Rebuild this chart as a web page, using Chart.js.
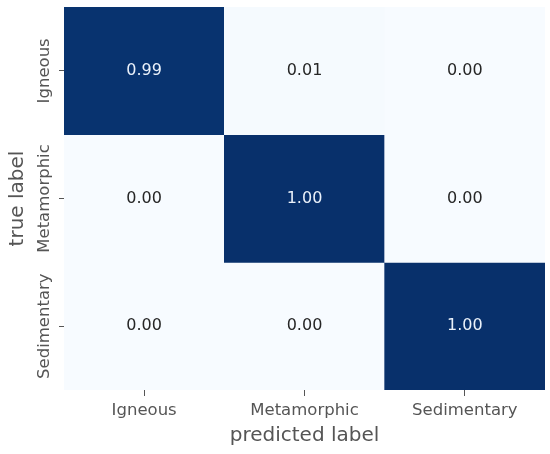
<!DOCTYPE html>
<html>
<head>
<meta charset="utf-8">
<script src="https://cdn.jsdelivr.net/npm/chart.js@4/dist/chart.umd.min.js"></script>
<style>
  html, body { margin: 0; padding: 0; background: #ffffff; }
  canvas { display: block; }
</style>
</head>
<body>
<canvas id="c" width="550" height="454"></canvas>
<script>
// ---- data ----
const predictedLabels = ['Igneous', 'Metamorphic', 'Sedimentary'];
const trueLabels = ['Igneous', 'Metamorphic', 'Sedimentary'];
const rowIgneous = [0.99, 0.01, 0.00];
const rowMetamorphic = [0.00, 1.00, 0.00];
const rowSedimentary = [0.00, 0.00, 1.00];
const matrixRows = [rowIgneous, rowMetamorphic, rowSedimentary];
const xTitle = 'predicted label';
const yTitle = 'true label';

// ---- colour map (Blues) ----
const bluesStops = ['#f7fbff','#deebf7','#c6dbef','#9ecae1','#6baed6','#4292c6','#2171b5','#08519c','#08306b'];
function hexToRgb(h){ return [parseInt(h.slice(1,3),16),parseInt(h.slice(3,5),16),parseInt(h.slice(5,7),16)]; }
function blues(t){
  t = Math.max(0, Math.min(1, t));
  const pos = t * (bluesStops.length - 1);
  const i = Math.min(Math.floor(pos), bluesStops.length - 2);
  const f = pos - i;
  const a = hexToRgb(bluesStops[i]), b = hexToRgb(bluesStops[i+1]);
  const c = a.map((v,k)=>Math.round(v + (b[k]-v)*f));
  return 'rgb(' + c.join(',') + ')';
}

const FONT = '"DejaVu Sans", "Liberation Sans", sans-serif';
const TICK_SIZE = 16.5;
const TEXT_GRAY = '#555555';

// measure widest y label for centring rotated labels on the axis
const mctx = document.createElement('canvas').getContext('2d');
mctx.font = TICK_SIZE + 'px ' + FONT;
const widestY = Math.max(...trueLabels.map(l => mctx.measureText(l).width));
const Y_AXIS_W = 64, Y_TICK_LEN = 5, Y_LABEL_CX = 45;
const yTickPadding = Y_AXIS_W - Y_TICK_LEN - Y_LABEL_CX - widestY / 2;

const datasets = matrixRows.map((row, r) => ({
  label: trueLabels[r],
  data: row.map(() => [r, r + 1]),
  values: row,
  backgroundColor: row.map(v => blues(v)),
  borderWidth: 0,
  barPercentage: 1.0,
  categoryPercentage: 1.0,
  grouped: false
}));

const annotPlugin = {
  id: 'annot',
  afterDatasetsDraw(chart) {
    const ctx = chart.ctx;
    ctx.save();
    ctx.font = '16px ' + FONT;
    ctx.textAlign = 'center';
    ctx.textBaseline = 'middle';
    chart.data.datasets.forEach((ds, di) => {
      const meta = chart.getDatasetMeta(di);
      meta.data.forEach((bar, i) => {
        const v = ds.values[i];
        ctx.fillStyle = v > 0.5 ? '#eaf1fa' : '#262626';
        const cy = (bar.y + bar.base) / 2;
        ctx.fillText(v.toFixed(2), bar.x, cy);
      });
    });
    ctx.restore();
  }
};

new Chart(document.getElementById('c'), {
  type: 'bar',
  data: { labels: predictedLabels, datasets },
  plugins: [annotPlugin],
  options: {
    responsive: false,
    animation: false,
    devicePixelRatio: 1,
    layout: { padding: { left: 0, right: 5, top: 7, bottom: 0 } },
    plugins: { legend: { display: false }, tooltip: { enabled: false } },
    scales: {
      x: {
        type: 'category',
        offset: true,
        grid: { display: true, drawOnChartArea: false, drawTicks: true, tickLength: 6, color: TEXT_GRAY, tickColor: TEXT_GRAY, offset: false },
        border: { display: false },
        ticks: { color: TEXT_GRAY, font: { family: FONT, size: TICK_SIZE }, padding: 5, maxRotation: 0, minRotation: 0 },
        title: { display: true, text: xTitle, color: TEXT_GRAY, font: { family: FONT, size: 20 }, padding: { top: 0, bottom: 6 } },
        afterFit(scale) { scale.height = 64; }
      },
      y: {
        type: 'linear',
        min: 0, max: 3,
        reverse: true,
        afterBuildTicks(scale) { scale.ticks = [0.5, 1.5, 2.5].map(v => ({ value: v })); },
        grid: { display: true, drawOnChartArea: false, drawTicks: true, tickLength: Y_TICK_LEN, color: TEXT_GRAY, tickColor: TEXT_GRAY },
        border: { display: false },
        ticks: {
          color: TEXT_GRAY,
          font: { family: FONT, size: TICK_SIZE },
          minRotation: 90, maxRotation: 90,
          crossAlign: 'center',
          padding: yTickPadding,
          callback: (v) => trueLabels[Math.floor(v)]
        },
        title: { display: true, text: yTitle, color: TEXT_GRAY, font: { family: FONT, size: 20 }, padding: { top: 6, bottom: 0 } },
        afterFit(scale) { scale.width = Y_AXIS_W; }
      }
    }
  }
});
</script>
</body>
</html>
